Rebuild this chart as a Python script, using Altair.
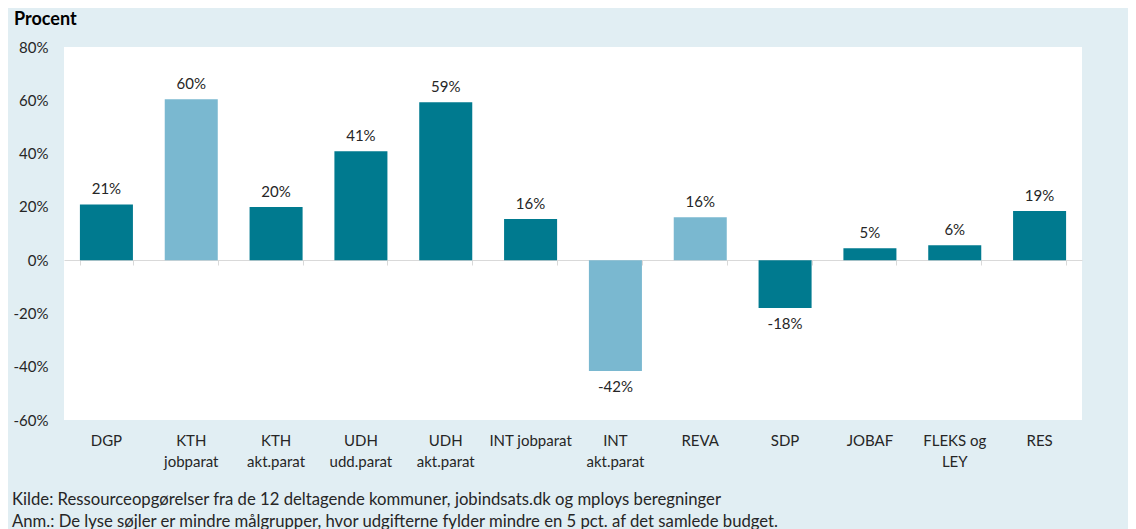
import altair as alt
import pandas as pd

categories = ["DGP", "KTH|jobparat", "KTH|akt.parat", "UDH|udd.parat", "UDH|akt.parat",
              "INT jobparat", "INT|akt.parat", "REVA", "SDP", "JOBAF", "FLEKS og|LEY", "RES"]
values = [20.9, 60.4, 19.9, 40.9, 59.3, 15.4, -41.6, 16.1, -18.0, 4.5, 5.6, 18.4]
value_labels = ["21%", "60%", "20%", "41%", "59%", "16%", "-42%", "16%", "-18%", "5%", "6%", "19%"]
light_bar = [False, True, False, False, False, False, True, True, False, False, False, False]
y_ticks = [-60, -40, -20, 0, 20, 40, 60, 80]
notes = ["Kilde: Ressourceopgørelser fra de 12 deltagende kommuner, jobindsats.dk og mploys beregninger",
         "Anm.: De lyse søjler er mindre målgrupper, hvor udgifterne fylder mindre en 5 pct. af det samlede budget."]
y_title = "Procent"

df = pd.DataFrame({
    "cat": categories,
    "value": values,
    "label": value_labels,
    "group": ["small" if s else "large" for s in light_bar],
})

W, H = 1018, 373
FONT = "Lato"
TXT = "#262626"
DARK = "#007a8f"
LIGHT = "#7ab8d0"
FS = 15

x_scale = alt.Scale(domain=categories, paddingInner=0.375, paddingOuter=0.1875)
y_scale = alt.Scale(domain=[-60, 80], nice=False)
y_axis = alt.Axis(title=None, values=y_ticks, labelExpr="datum.value + '%'", grid=False,
                  domain=False, ticks=False, labelPadding=16, labelFont=FONT,
                  labelFontSize=FS, labelColor=TXT)

base = alt.Chart(df)

bars = base.mark_bar().encode(
    x=alt.X("cat:N", scale=x_scale, sort=categories,
            axis=alt.Axis(title=None, labelAngle=0, domain=False, ticks=False, labelPadding=13,
                          labelExpr="split(datum.label, '|')", labelFont=FONT, labelFontSize=FS,
                          labelColor=TXT, labelLineHeight=21, orient="bottom")),
    y=alt.Y("value:Q", scale=y_scale, axis=y_axis),
    color=alt.Color("group:N", scale=alt.Scale(domain=["large", "small"], range=[DARK, LIGHT]),
                    legend=None),
)

zero_axis = base.mark_rule(opacity=0).encode(
    x=alt.X("cat:N", scale=x_scale, sort=categories,
            axis=alt.Axis(title=None, labels=False, domain=True, domainColor="#d9d9d9",
                          ticks=True, tickBand="extent", tickSize=5, tickColor="#d9d9d9",
                          offset=-160, orient="bottom")),
)

pos_text = base.transform_filter("datum.value >= 0").mark_text(
    baseline="bottom", dy=-7, font=FONT, fontSize=FS, color=TXT
).encode(
    x=alt.X("cat:N", scale=x_scale, sort=categories, axis=None),
    y=alt.Y("value:Q", scale=y_scale, axis=y_axis),
    text="label:N",
)

neg_text = base.transform_filter("datum.value < 0").mark_text(
    baseline="top", dy=9, font=FONT, fontSize=FS, color=TXT
).encode(
    x=alt.X("cat:N", scale=x_scale, sort=categories, axis=None),
    y=alt.Y("value:Q", scale=y_scale, axis=y_axis),
    text="label:N",
)

ytitle = alt.Chart(pd.DataFrame({"t": [y_title]})).mark_text(
    align="left", baseline="middle", font=FONT, fontSize=18, fontWeight="bold", color="#000000"
).encode(x=alt.value(-50), y=alt.value(-27), text="t:N")

note_text = alt.Chart(pd.DataFrame({"t": [notes]})).mark_text(
    align="left", baseline="middle", font=FONT, fontSize=16.7, color=TXT, lineHeight=22
).encode(x=alt.value(-52), y=alt.value(453), text="t")

chart = alt.layer(zero_axis, bars, pos_text, neg_text, ytitle, note_text).resolve_axis(
    x="independent"
).properties(
    width=W, height=H, background="#e1eef3",
    padding={"left": 56, "top": 39, "right": 46, "bottom": 110},
    autosize=alt.AutoSizeParams(type="none"),
).configure_view(fill="white", stroke=None)

chart.save("out.html", embed_options={"renderer": "svg", "actions": False})
